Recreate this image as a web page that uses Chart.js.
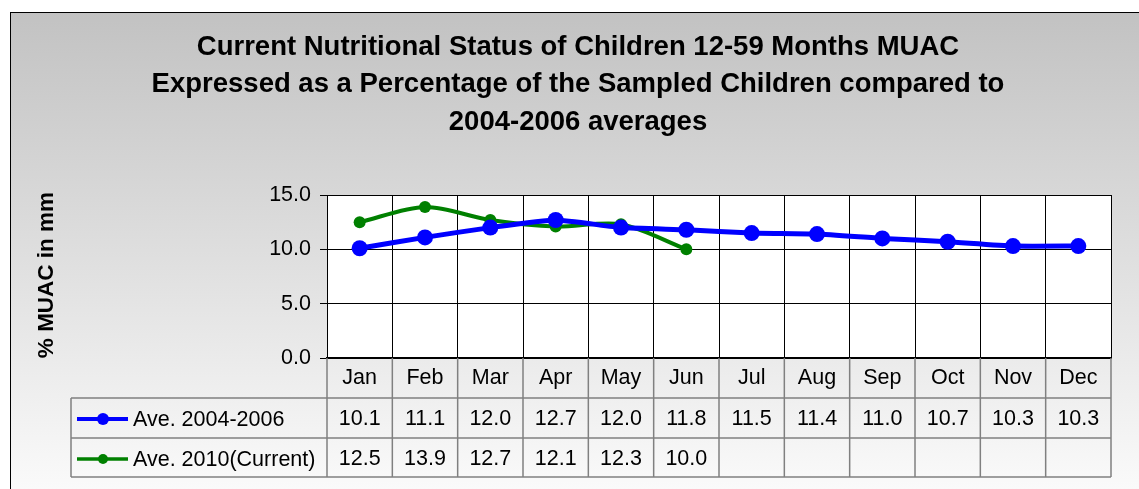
<!DOCTYPE html>
<html>
<head>
<meta charset="utf-8">
<script src="https://cdn.jsdelivr.net/npm/chart.js@4/dist/chart.umd.min.js"></script>
<style>
  html, body { margin: 0; padding: 0; background: #fff; }
  canvas { display: block; }
</style>
</head>
<body>
<canvas id="muacChart" width="1139" height="489"></canvas>
<script>
// data
const months = ['Jan', 'Feb', 'Mar', 'Apr', 'May', 'Jun', 'Jul', 'Aug', 'Sep', 'Oct', 'Nov', 'Dec'];
const avg2004to2006 = [10.1, 11.1, 12.0, 12.7, 12.0, 11.8, 11.5, 11.4, 11.0, 10.7, 10.3, 10.3];
const avg2010 = [12.5, 13.9, 12.7, 12.1, 12.3, 10.0, null, null, null, null, null, null];
const seriesNames = ['Ave. 2004-2006', 'Ave. 2010(Current)'];
const titleLines = [
  'Current Nutritional Status of Children 12-59 Months MUAC',
  'Expressed as a Percentage of the Sampled Children compared to',
  '2004-2006 averages'
];
const yTitle = '% MUAC in mm';

const FONT = '"Liberation Sans", Arial, sans-serif';

// background gradient + outer frame + title
const backgroundPlugin = {
  id: 'background',
  beforeDraw(chart) {
    const { ctx, width, height, chartArea } = chart;
    ctx.save();
    const grad = ctx.createLinearGradient(0, 12, 0, height);
    grad.addColorStop(0, '#c2c2c2');
    grad.addColorStop(1, '#fafafa');
    ctx.fillStyle = '#ffffff';
    ctx.fillRect(0, 0, width, height);
    ctx.fillStyle = grad;
    ctx.fillRect(10, 12, width - 10, height - 12);
    ctx.strokeStyle = '#000';
    ctx.lineWidth = 1;
    ctx.strokeRect(10.5, 12.5, width + 10, height + 10);

    // plot area white
    ctx.fillStyle = '#ffffff';
    ctx.fillRect(chartArea.left, chartArea.top, chartArea.right - chartArea.left, chartArea.bottom - chartArea.top);

    // title
    ctx.fillStyle = '#000';
    ctx.font = 'bold 27.5px ' + FONT;
    ctx.textAlign = 'center';
    ctx.textBaseline = 'middle';
    const tops = [47, 84, 122];
    titleLines.forEach((t, i) => ctx.fillText(t, 578, tops[i]));

    // y axis title
    ctx.translate(47, 275);
    ctx.rotate(-Math.PI / 2);
    ctx.font = 'bold 22.5px ' + FONT;
    ctx.fillText(yTitle, 0, 0);
    ctx.restore();
  }
};

// data table under the plot
const dataTablePlugin = {
  id: 'dataTable',
  afterDraw(chart) {
    const { ctx, chartArea } = chart;
    const xScale = chart.scales.x;
    const half = (xScale.getPixelForValue(1) - xScale.getPixelForValue(0)) / 2;
    const rowTops = [chartArea.bottom, 398, 438, 477];
    const legendLeft = 71;
    const rows = [avg2004to2006, avg2010];
    const colors = ['#0000ff', '#008000'];

    ctx.save();
    ctx.strokeStyle = '#808080';
    ctx.lineWidth = 1.5;

    // horizontal lines
    ctx.beginPath();
    ctx.moveTo(legendLeft, rowTops[1]); ctx.lineTo(chartArea.right, rowTops[1]);
    ctx.moveTo(legendLeft, rowTops[2]); ctx.lineTo(chartArea.right, rowTops[2]);
    ctx.moveTo(legendLeft, rowTops[3]); ctx.lineTo(chartArea.right, rowTops[3]);
    ctx.moveTo(legendLeft, rowTops[1]); ctx.lineTo(legendLeft, rowTops[3]);
    // column boundaries
    for (let i = 0; i <= months.length; i++) {
      const x = i < months.length ? xScale.getPixelForValue(i) - half : xScale.getPixelForValue(months.length - 1) + half;
      ctx.moveTo(x, rowTops[0]); ctx.lineTo(x, rowTops[3]);
    }
    ctx.stroke();

    ctx.fillStyle = '#000';
    ctx.font = '21.5px ' + FONT;
    ctx.textAlign = 'center';
    ctx.textBaseline = 'middle';
    months.forEach((m, i) => {
      const x = xScale.getPixelForValue(i);
      ctx.fillText(m, x, 378);
      rows.forEach((r, j) => {
        if (r[i] !== null) ctx.fillText(r[i].toFixed(1), x, [419, 459][j]);
      });
    });

    // legend keys
    seriesNames.forEach((name, j) => {
      const y = [419, 459][j];
      ctx.strokeStyle = colors[j];
      ctx.fillStyle = colors[j];
      ctx.lineWidth = j === 0 ? 4 : 3.5;
      ctx.beginPath();
      ctx.moveTo(77, y); ctx.lineTo(128, y);
      ctx.stroke();
      ctx.beginPath();
      ctx.arc(103, y, j === 0 ? 6 : 5, 0, Math.PI * 2);
      ctx.fill();
      ctx.fillStyle = '#000';
      ctx.textAlign = 'left';
      ctx.fillText(name, 133, y + 1);
    });
    ctx.restore();
  }
};

new Chart(document.getElementById('muacChart'), {
  type: 'line',
  data: {
    labels: months,
    datasets: [
      {
        label: seriesNames[0],
        data: avg2004to2006,
        borderColor: '#0000ff',
        backgroundColor: '#0000ff',
        borderWidth: 5,
        pointRadius: 8,
        pointBorderWidth: 0,
        tension: 0.15,
      },
      {
        label: seriesNames[1],
        data: avg2010,
        borderColor: '#008000',
        backgroundColor: '#008000',
        borderWidth: 4,
        pointRadius: 6,
        pointBorderWidth: 0,
        tension: 0.3,
        spanGaps: false,
      }
    ]
  },
  options: {
    responsive: false,
    animation: false,
    layout: { padding: { left: 0, top: 195, right: 28, bottom: 131 } },
    plugins: {
      legend: { display: false },
      title: { display: false },
      tooltip: { enabled: false },
    },
    scales: {
      x: {
        offset: true,
        grid: { offset: true, color: '#000', lineWidth: 1, drawTicks: false },
        border: { color: '#000', width: 2 },
        ticks: { display: false },
        afterFit: s => { s.height = 0; },
      },
      y: {
        min: 0,
        max: 15,
        ticks: {
          stepSize: 5,
          padding: 9,
          color: '#000',
          font: { family: FONT, size: 21.5 },
          callback: v => v.toFixed(1),
        },
        grid: { color: '#000', lineWidth: 1, tickLength: 7 },
        border: { color: '#000', width: 1 },
        afterFit: s => { s.width = 327; },
      }
    }
  },
  plugins: [backgroundPlugin, dataTablePlugin]
});
</script>
</body>
</html>
